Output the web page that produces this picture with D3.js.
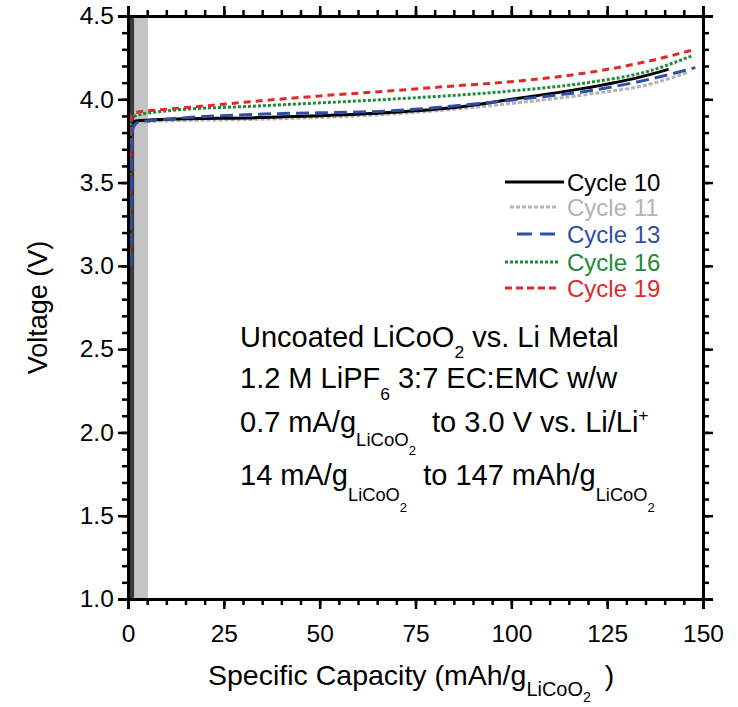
<!DOCTYPE html>
<html>
<head>
<meta charset="utf-8">
<script src="https://cdn.jsdelivr.net/npm/d3@7"></script>
<style>
  body { margin: 0; background: #fff; }
  svg { font-family: "Liberation Sans", Arial, sans-serif; }
  text { white-space: pre; }
</style>
</head>
<body>
<div class="chart"></div>
<script>
// values
let cycleNames=['Cycle 10','Cycle 11','Cycle 13','Cycle 16','Cycle 19']
let cap10=[0.4,0.5,0.9,2,10,34,68,85,100,120,133,141]
let volt10=[3.0,3.6,3.84,3.87,3.88,3.89,3.92,3.95,4.0,4.07,4.13,4.18]
let cap11=[0.4,0.5,0.9,2,10,34,68,85,102,120,136,146]
let volt11=[3.0,3.6,3.83,3.86,3.87,3.88,3.91,3.94,3.98,4.03,4.09,4.16]
let cap13=[0.8,0.9,1.2,2.5,10,34,68,85,102,120,136,148]
let volt13=[3.0,3.6,3.82,3.86,3.88,3.91,3.93,3.96,4.0,4.05,4.12,4.19]
let cap16=[0.4,0.5,0.9,2,10,34,68,100,120,136,147]
let volt16=[3.0,3.6,3.88,3.9,3.93,3.96,4.0,4.05,4.1,4.17,4.26]
let cap19=[0.4,0.5,0.9,2,10,20,34,50,68,85,102,120,136,148]
let volt19=[3.0,3.6,3.9,3.92,3.94,3.96,3.99,4.02,4.05,4.08,4.11,4.16,4.23,4.30]
let xTicks=[0,25,50,75,100,125,150]
let yTicks=[1.0,1.5,2.0,2.5,3.0,3.5,4.0,4.5]
let shadeDark=[0,1.6]
let shadeLight=[1.6,5.2]

let w=738, h=707
let pl=128, pt=16, pr=703, pb=599

let colors=['#000000','#b3b3b3','#2f4fa6','#1e8a3c','#e02a2a']
let dashes=[null,'4,2','13,6','3,2','7,5']
let legDash=[null,'4,2','15,8','3,2','7,4']
let caps=[cap10,cap11,cap13,cap16,cap19]
let volts=[volt10,volt11,volt13,volt16,volt19]

let x=d3.scaleLinear().domain([0,150]).range([pl,pr])
let y=d3.scaleLinear().domain([1.0,4.5]).range([pb,pt])

let svg=d3.select('.chart').append('svg').attr('width',w).attr('height',h)

// shaded bands
svg.append('rect').attr('x',x(shadeLight[0])).attr('y',pt).attr('width',x(shadeLight[1])-x(shadeLight[0])).attr('height',pb-pt).attr('fill','#c4c4c4')
svg.append('rect').attr('x',x(shadeDark[0])).attr('y',pt).attr('width',x(shadeDark[1])-x(shadeDark[0])).attr('height',pb-pt).attr('fill','#3a3a3a')

// curves
let line=d3.line().x(d=>x(d[0])).y(d=>y(d[1])).curve(d3.curveMonotoneX)
let order=[1,0,3,4,2]
order.forEach(i=>{
    let pts=caps[i].map((c,k)=>[c,volts[i][k]])
    svg.append('path').datum(pts).attr('d',line).attr('fill','none')
      .attr('stroke',colors[i]).attr('stroke-width',3)
      .attr('stroke-dasharray',dashes[i])
})

// axes, ticks outward on all sides
let minorX=d3.range(0,151,5), minorY=d3.range(10,46,1).map(v=>v/10)
let xb=svg.append('g').attr('transform','translate(0,'+pb+')')
xb.call(d3.axisBottom(x).tickValues(minorX).tickSize(6).tickFormat(''))
xb.append('g').call(d3.axisBottom(x).tickValues(xTicks).tickSize(10).tickFormat(d3.format('d')))
let xt=svg.append('g').attr('transform','translate(0,'+pt+')')
xt.call(d3.axisTop(x).tickValues(minorX).tickSize(6).tickFormat(''))
xt.append('g').call(d3.axisTop(x).tickValues(xTicks).tickSize(10).tickFormat(''))
let yl=svg.append('g').attr('transform','translate('+pl+',0)')
yl.call(d3.axisLeft(y).tickValues(minorY).tickSize(6).tickFormat(''))
yl.append('g').call(d3.axisLeft(y).tickValues(yTicks).tickSize(10).tickFormat(d3.format('.1f')))
let yr=svg.append('g').attr('transform','translate('+pr+',0)')
yr.call(d3.axisRight(y).tickValues(minorY).tickSize(6).tickFormat(''))
yr.append('g').call(d3.axisRight(y).tickValues(yTicks).tickSize(10).tickFormat(''))

svg.selectAll('.domain').attr('stroke','#000').attr('stroke-width',3)
svg.selectAll('.tick line').attr('stroke','#000').attr('stroke-width',2.5)
svg.selectAll('.tick text').attr('font-size',24.5).attr('font-family','"Liberation Sans", Arial, sans-serif').attr('fill','#000')
xb.selectAll('.tick text').attr('dy','1.22em')
yl.selectAll('.tick text').attr('dx','-0.05em')

// text with sub/superscripts: [text, offset from baseline, font scale, dx]
function rich(sel,parts,base){
    let cur=0
    parts.forEach(p=>{
        let off=p[1]||0, sc=p[2]||1
        let ts=sel.append('tspan').text(p[0]).attr('dy',off-cur).attr('font-size',base*sc)
        if(p[3]) ts.attr('dx',p[3])
        cur=off
    })
}

svg.append('text').attr('x',38).attr('y',(pt+pb)/2).attr('font-size',27)
  .attr('text-anchor','middle').attr('transform','rotate(-90,38,'+((pt+pb)/2)+')').attr('dy','0.35em')
  .text('Voltage (V)')

let tx=svg.append('text').attr('x',208).attr('y',685)
rich(tx,[['Specific Capacity (mAh/g'],['LiCoO',11,0.7],['2',17,0.5],[')',0,1,14]],28.5)

// legend
let legY=[182,207,234,262,288]
let legX1=[505,510,517,505,505]
cycleNames.forEach((n,i)=>{
    svg.append('line').attr('x1',legX1[i]).attr('x2',i==0?564:558).attr('y1',legY[i]).attr('y2',legY[i])
      .attr('stroke',colors[i]).attr('stroke-width',3).attr('stroke-dasharray',legDash[i])
    svg.append('text').attr('x',567).attr('y',legY[i]).attr('dy','0.36em').attr('font-size',24)
      .attr('fill',colors[i]).text(n)
})

// annotation
let notes=[
  [['Uncoated LiCoO'],['2',11,0.6],[' vs. Li Metal',0,1]],
  [['1.2 M LiPF'],['6',12,0.6],[' 3:7 EC:EMC w/w',0,1]],
  [['0.7 mA/g'],['LiCoO',14,0.64],['2',23,0.45],['  to 3.0 V vs. Li/Li',0,1],['+',-11,0.6]],
  [['14 mA/g'],['LiCoO',16,0.63],['2',27,0.45],['  to 147 mAh/g',0,1],['LiCoO',16,0.63],['2',27,0.45]]
]
let noteY=[347,388,432,485]
notes.forEach((p,i)=>{
    let t=svg.append('text').attr('x',240).attr('y',noteY[i]).attr('fill','#000')
    rich(t,p,29)
})
</script>
</body>
</html>
